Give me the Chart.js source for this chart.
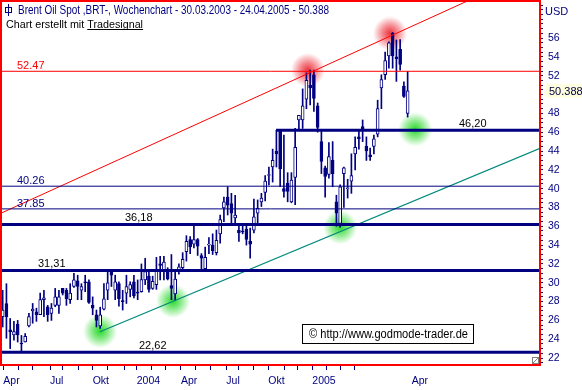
<!DOCTYPE html>
<html>
<head>
<meta charset="utf-8">
<script src="https://cdn.jsdelivr.net/npm/chart.js@4.4.0/dist/chart.umd.min.js"></script>
<style>
  html, body { margin: 0; padding: 0; background: #fff; }
  #wrap { width: 582px; height: 390px; }
</style>
</head>
<body>
<div id="wrap"><canvas id="chart" width="582" height="390"></canvas></div>
<script>
// weekly Brent candles, 30.03.2003 - 24.04.2005
const opens = [26.4, 27.8, 25.0, 24.45, 25.6, 23.6, 23.7, 25.4, 27.0, 26.9,
  26.6, 28.2, 27.45, 26.75, 27.6, 27.6, 29.4, 29.2, 28.2, 29.6,
  30.2, 29.2, 30.1, 30.1, 27.6, 26.6, 25.4, 27.2, 29.2, 31.3,
  29.2, 29.9, 28.1, 28.9, 29.3, 30.1, 29.0, 29.05, 30.3, 30.7,
  29.4, 29.8, 32.0, 31.35, 31.2, 29.7, 28.8, 31.2, 31.6, 33.3,
  34.6, 34.1, 34.6, 32.9, 31.5, 34.0, 34.0, 33.2, 35.2, 37.96,
  39.1, 38.4, 36.9, 35.6, 35.5, 35.7, 34.4, 35.6, 37.4, 38.6,
  39.6, 41.4, 42.3, 44.0, 46.1, 40.0, 40.6, 38.6, 41.2, 47.3,
  47.3, 49.5, 51.0, 52.1, 48.8, 45.0, 42.2, 41.5, 43.0, 38.6,
  36.3, 41.6, 40.0, 40.8, 43.7, 45.5, 46.6, 44.5, 43.6, 44.5,
  45.8, 50.7, 52.1, 54.1, 56.5, 54.0, 54.8, 50.9, 48.0];
const highs = [29.2, 29.9, 26.2, 25.9, 26.0, 24.4, 24.6, 26.75, 27.8, 27.3,
  28.9, 29.2, 27.6, 27.8, 29.4, 29.2, 29.4, 29.4, 29.9, 31.0,
  30.8, 29.9, 30.8, 30.3, 28.5, 27.1, 27.4, 29.9, 31.3, 31.3,
  30.8, 30.1, 29.2, 30.8, 30.1, 30.8, 30.3, 32.0, 32.6, 31.35,
  30.7, 32.7, 32.8, 32.8, 31.6, 33.0, 31.35, 32.0, 33.2, 35.0,
  34.9, 36.3, 34.7, 33.1, 33.8, 34.8, 35.2, 35.6, 37.2, 39.1,
  40.2, 39.5, 39.3, 36.3, 36.3, 36.3, 35.8, 38.9, 38.8, 39.5,
  41.4, 42.3, 44.2, 46.2, 46.3, 45.7, 41.7, 41.7, 46.4, 47.8,
  50.6, 52.3, 52.6, 52.6, 49.1, 46.2, 42.4, 44.9, 45.0, 39.3,
  40.4, 42.3, 41.0, 43.7, 45.5, 46.2, 47.3, 45.5, 44.3, 45.7,
  49.4, 52.1, 54.5, 55.6, 56.6, 55.8, 55.85, 51.35, 52.45];
const lows = [25.3, 24.1, 23.0, 23.9, 23.7, 22.67, 23.7, 25.3, 25.7, 25.9,
  26.6, 26.4, 25.9, 26.0, 27.45, 26.75, 28.7, 27.6, 27.8, 29.5,
  28.2, 28.2, 29.05, 27.8, 26.6, 25.3, 25.15, 27.1, 28.2, 29.6,
  28.2, 27.5, 27.1, 27.8, 28.5, 28.4, 28.2, 29.0, 29.8, 29.0,
  29.3, 29.3, 30.3, 30.3, 30.3, 28.2, 28.1, 30.9, 31.35, 32.3,
  33.1, 33.7, 32.9, 31.5, 31.4, 33.1, 33.0, 32.95, 34.2, 36.5,
  37.2, 36.3, 36.3, 34.4, 35.2, 34.0, 32.6, 35.3, 36.3, 38.1,
  38.7, 40.4, 40.7, 42.3, 40.2, 39.1, 38.6, 38.5, 38.3, 46.2,
  46.4, 48.5, 48.9, 48.2, 46.0, 41.6, 39.1, 41.1, 40.2, 36.0,
  35.9, 38.0, 39.0, 39.5, 42.0, 44.2, 45.0, 43.0, 43.0, 43.7,
  45.5, 48.5, 51.6, 52.8, 52.8, 51.4, 52.6, 49.7, 47.6];
const closes = [27.1, 26.4, 24.8, 24.8, 24.45, 23.5, 24.3, 26.4, 27.2, 26.6,
  28.2, 28.4, 26.6, 27.3, 28.5, 28.5, 28.9, 28.3, 28.9, 30.3,
  29.6, 29.6, 30.0, 27.9, 27.3, 26.0, 26.6, 28.3, 30.0, 30.8,
  30.1, 28.3, 28.0, 29.6, 29.8, 28.6, 28.9, 30.35, 31.2, 29.3,
  30.15, 31.35, 31.85, 32.2, 30.4, 29.4, 30.4, 31.7, 32.5, 34.4,
  33.8, 34.6, 33.9, 32.6, 32.7, 34.1, 33.4, 34.5, 36.7, 38.6,
  38.25, 37.4, 37.2, 35.3, 35.4, 34.6, 34.1, 37.0, 37.9, 39.0,
  40.8, 41.5, 43.0, 43.7, 42.1, 39.7, 39.7, 40.9, 44.4, 47.8,
  48.8, 51.5, 50.7, 49.6, 46.5, 42.9, 41.3, 43.4, 41.6, 37.4,
  40.2, 42.2, 40.1, 41.4, 44.4, 45.3, 46.3, 44.0, 43.4, 45.3,
  48.5, 51.6, 53.6, 55.5, 54.1, 53.8, 53.2, 49.8, 50.39];

// horizontal support / resistance levels
const levelValues = [52.47, 46.20, 40.26, 37.85, 36.18, 31.31, 22.62];
const levelLabels = ["52.47", "46,20", "40.26", "37.85", "36,18", "31,31", "22,62"];
const levelStart = [-0.45, 72.9, -0.45, -0.45, -0.45, -0.45, -0.45];

// trend lines (week index, price)
const upperTrend = [[-0.45, 37.39], [143.3, 63.45]];
const lowerTrend = [[25.95, 24.8], [143.3, 44.29]];

// highlighted turning points
const redMarks = [[81.4, 52.6], [103.3, 56.5]];
const greenMarks = [[26, 24.87], [45.4, 28.06], [90, 35.9], [110, 46.3]];

// x axis ticks (week index) and their labels
const xTickPos = [0.16, 4.35, 8.0, 12.62, 16.0, 20.35, 24.0, 28.08, 32.43, 35.74,
  39.74, 43.47, 47.55, 51.47, 55.29, 59.64, 63.02, 67.02, 70.84, 75.03,
  78.68, 82.57, 86.41, 90.22, 93.96, 109.08];
const xTickText = ["Apr", "", "", "Jul", "", "", "Okt", "", "", "2004",
  "", "", "Apr", "", "", "Jul", "", "", "Okt", "",
  "", "2005", "", "", "", "Apr"];

const lastPrice = 50.388;
const titleText = "Brent Oil Spot ,BRT-, Wochenchart - 30.03.2003 - 24.04.2005 - 50.388";

const navy = "#000080";
const X_MIN = -0.45, X_MAX = 143.3;
const FONT = '"Liberation Sans", Arial, sans-serif';

function glow(r, g, b) {
  const c = document.createElement("canvas");
  c.width = c.height = 34;
  const g2 = c.getContext("2d");
  const gr = g2.createRadialGradient(17, 17, 0, 17, 17, 17);
  gr.addColorStop(0, "rgba(" + r + "," + g + "," + b + ",0.95)");
  gr.addColorStop(0.45, "rgba(" + r + "," + g + "," + b + ",0.55)");
  gr.addColorStop(1, "rgba(" + r + "," + g + "," + b + ",0)");
  g2.fillStyle = gr;
  g2.fillRect(0, 0, 34, 34);
  return c;
}

// draw text squeezed/stretched to a given width
function fitText(c, text, x, y, width) {
  const w = c.measureText(text).width;
  c.save();
  c.translate(x, y);
  c.scale(width / w, 1);
  c.fillText(text, 0, 0);
  c.restore();
}

const idx = opens.map((_, i) => i);

const datasets = [];
// glows at the back
datasets.push({
  type: "scatter", data: redMarks.map(p => ({ x: p[0], y: p[1] })),
  pointStyle: glow(235, 40, 50), order: 20
});
datasets.push({
  type: "scatter", data: greenMarks.map(p => ({ x: p[0], y: p[1] })),
  pointStyle: glow(30, 215, 30), order: 20
});
// wicks
datasets.push({
  type: "bar", data: idx.map(i => ({ x: i, y: [lows[i], highs[i]] })),
  backgroundColor: navy, barThickness: 1, grouped: false, order: 6
});
// bodies
datasets.push({
  type: "bar", data: idx.map(i => ({ x: i, y: [opens[i], closes[i]] })),
  backgroundColor: ctx => closes[ctx.dataIndex] >= opens[ctx.dataIndex] ? "#ffffff" : navy,
  borderColor: navy, borderWidth: 1, borderSkipped: false,
  barThickness: 3, grouped: false, order: 5
});
// trend lines
datasets.push({
  type: "line", data: upperTrend.map(p => ({ x: p[0], y: p[1] })),
  borderColor: "#ff0000", borderWidth: 1, pointRadius: 0, clip: 0, order: 3
});
datasets.push({
  type: "line", data: lowerTrend.map(p => ({ x: p[0], y: p[1] })),
  borderColor: "#00897b", borderWidth: 1.2, pointRadius: 0, clip: 0, order: 3
});
// level lines
levelValues.forEach((v, k) => {
  const thin = k === 0 || k === 2 || k === 3;
  datasets.push({
    type: "line", data: [{ x: levelStart[k], y: v }, { x: X_MAX, y: v }],
    borderColor: k === 0 ? "#ff0000" : navy, borderWidth: thin ? 1 : 3,
    pointRadius: 0, clip: 0, order: 2
  });
});

const labelLayout = [
  { x: 17, color: "#ff0000" }, { x: 459, color: "#000" }, { x: 17, color: navy },
  { x: 17, color: navy }, { x: 125, color: "#000" }, { x: 38, color: "#000" }, { x: 139, color: "#000" }
];

const decor = {
  id: "decor",
  beforeDraw(chart) {
    const c = chart.ctx;
    c.save();
    c.fillStyle = "#fff";
    c.fillRect(0, 0, chart.width, chart.height);
    c.restore();
  },
  afterDraw(chart) {
    const c = chart.ctx, a = chart.chartArea, ys = chart.scales.y;
    c.save();
    c.textBaseline = "alphabetic";
    // level labels
    c.font = "11px " + FONT;
    levelValues.forEach((v, k) => {
      const thin = k === 0 || k === 2 || k === 3;
      c.fillStyle = labelLayout[k].color;
      c.fillText(levelLabels[k], labelLayout[k].x, ys.getPixelForValue(v) - (thin ? 2 : 3.5));
    });
    // title
    c.strokeStyle = navy; c.lineWidth = 1;
    c.strokeRect(5.5, 7.5, 6, 5);
    c.beginPath(); c.moveTo(8.5, 4); c.lineTo(8.5, 16); c.stroke();
    c.fillStyle = navy;
    c.font = "12px " + FONT;
    fitText(c, titleText, 18, 14, 311);
    c.fillStyle = "#000";
    c.font = "10px " + FONT;
    const pre = "Chart erstellt mit ";
    const w0 = c.measureText(pre).width;
    const w1 = c.measureText("Tradesignal").width;
    const k = 137 / (w0 + w1);
    fitText(c, pre, 6, 28, w0 * k);
    fitText(c, "Tradesignal", 6 + w0 * k, 28, w1 * k);
    c.fillRect(6 + w0 * k, 29, w1 * k, 1);
    // copyright box
    c.fillStyle = "#fff";
    c.fillRect(302, 324, 172, 19);
    c.strokeStyle = "#000";
    c.strokeRect(302.5, 324.5, 171, 19);
    c.fillStyle = "#000";
    c.font = "12px " + FONT;
    fitText(c, "\u00a9 http://www.godmode-trader.de", 309, 338, 159);
    // frame
    c.strokeStyle = "#ff0000"; c.lineWidth = 2;
    c.strokeRect(a.left, a.top, a.right - a.left, a.bottom - a.top);
    // resize grip
    c.lineWidth = 1; c.strokeStyle = "#808080";
    c.strokeRect(532.5, 357.5, 6, 6);
    c.beginPath(); c.moveTo(533, 363); c.lineTo(538, 358); c.stroke();
    // axis extras
    c.fillStyle = navy;
    c.font = "11px " + FONT;
    c.fillText("USD", 545, 15);
    const py = ys.getPixelForValue(lastPrice);
    c.fillStyle = "#ffffe0";
    c.fillRect(546, py - 7, 36, 14);
    c.fillStyle = "#000040";
    c.fillText(lastPrice.toFixed(3), 549, py + 4);
    c.restore();
  }
};

function noPad(s) {
  s.paddingTop = 0; s.paddingBottom = 0; s.paddingLeft = 0; s.paddingRight = 0;
}

new Chart(document.getElementById("chart"), {
  type: "bar",
  data: { datasets: datasets },
  options: {
    responsive: false,
    devicePixelRatio: 1,
    animation: false,
    events: [],
    layout: { autoPadding: false, padding: { left: 1, top: 1, right: 0, bottom: 0 } },
    plugins: { legend: { display: false }, tooltip: { enabled: false } },
    scales: {
      x: {
        type: "linear", position: "bottom", min: X_MIN, max: X_MAX, offset: false,
        grid: {
          offset: false, drawOnChartArea: false, tickLength: 5,
          tickColor: ctx => ctx.index === xTickPos.length - 1 ? "rgba(0,0,0,0)" : navy
        },
        border: { display: false },
        afterBuildTicks: s => { s.ticks = xTickPos.map(v => ({ value: v })); },
        afterFit: s => { s.height = 25; noPad(s); },
        ticks: {
          align: "start", autoSkip: false, maxRotation: 0, padding: 5,
          color: navy, font: { family: "Liberation Sans", size: 10.5 },
          callback: (v, i) => xTickText[i]
        }
      },
      y: {
        type: "linear", position: "right", min: 21.26, max: 59.94,
        grid: { drawOnChartArea: false, tickLength: 3, tickColor: navy },
        border: { display: false },
        afterBuildTicks: s => {
          const t = [];
          for (let v = 21.5; v <= 59.5; v += 0.5) t.push({ value: v });
          s.ticks = t;
        },
        afterFit: s => { s.width = 42; noPad(s); },
        ticks: {
          autoSkip: false, padding: 5, color: navy,
          font: { family: "Liberation Sans", size: 10.5 },
          callback: v => (v % 2 === 0 && v >= 22 && v <= 56 && v !== 50) ? String(v) : ""
        }
      }
    }
  },
  plugins: [decor]
});
</script>
</body>
</html>
